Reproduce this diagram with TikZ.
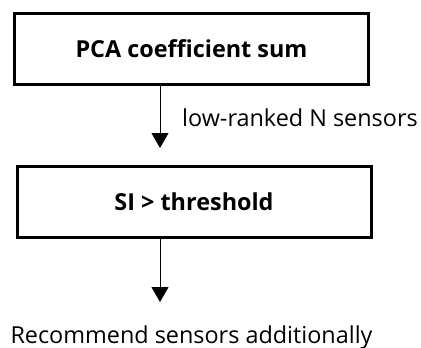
\documentclass[tikz,border=0pt]{standalone}
\usepackage{fontspec}
\setmainfont{Open Sans}
\usetikzlibrary{arrows.meta}
\tikzset{
  stepbox/.style={draw, line width=3pt, minimum width=354pt, minimum height=71pt, inner sep=0pt,
    font=\fontsize{23.4}{28}\selectfont\bfseries},
  flow/.style={line width=1pt, -{Triangle[width=17pt,length=15pt]}},
  plain/.style={font=\fontsize{23.4}{28}\selectfont, inner sep=0pt}
}
\begin{document}
\begin{tikzpicture}[x=1pt,y=-1pt]
  \useasboundingbox (0,0) rectangle (421,348);
  % two process boxes
  \node[stepbox] (pca) at (191.5,49) {\raisebox{-2pt}{PCA coefficient sum}};
  \node[stepbox] (si) at (194,202) {\raisebox{-1pt}{SI > threshold}};
  % vertical axis of the flow arrows
  \coordinate (axis) at (160,0);
  \coordinate (end) at (160,302);
  \draw[flow, shorten >=17pt] (pca.south -| axis) -- (si.north -| axis);
  \node[plain, anchor=west] (lbl) at (182,118) {low-ranked N sensors};
  \draw[flow] (si.south -| axis) -- (end);
  \node[plain] (rec) at (191.5,337) {Recommend sensors additionally};
\end{tikzpicture}
\end{document}
